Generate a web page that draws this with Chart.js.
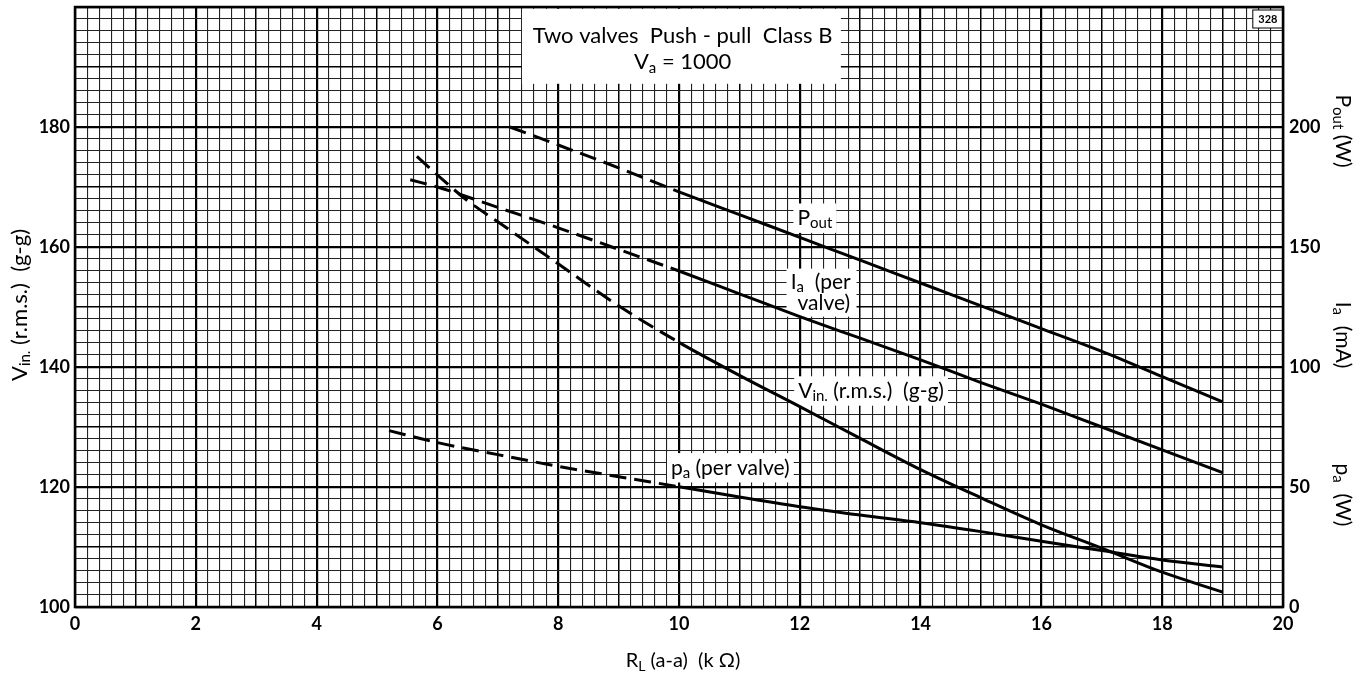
<!DOCTYPE html>
<html>
<head>
<meta charset="utf-8">
<script src="https://cdn.jsdelivr.net/npm/chart.js@4.4.1/dist/chart.umd.min.js"></script>
<style>
  html, body { margin: 0; padding: 0; background: #fff; }
  #wrap { width: 1365px; height: 679px; }
</style>
</head>
<body>
<div id="wrap"><canvas id="valveChart"></canvas></div>
<script>
// R_L (a-a) in kOhm for each curve
const poutX = [7.2, 8, 9, 10, 11, 12, 13, 14, 15, 16, 17, 18, 19];
const poutW = [200, 192.5, 183, 173, 163.5, 154, 144.5, 135, 125.5, 116, 106.5, 96, 85.5];

const iaX = [5.55, 6, 7, 8, 9, 10, 11, 12, 13, 14, 15, 16, 17, 18, 19];
const iaMA = [178, 175, 166.5, 158, 149, 140, 130.5, 121, 112, 103, 93.5, 84.5, 75, 65.5, 56];

const vinX = [5.66, 6, 6.5, 7, 8, 9, 10, 11, 12, 13, 14, 15, 16, 17, 18, 19];
const vinV = [175.1, 172, 167.7, 164.2, 157.2, 150.2, 144.1, 138.6, 133.4, 128.1, 122.9, 118.2, 113.7, 109.8, 105.8, 102.5];

const paX = [5.2, 6, 7, 8, 9, 10, 11, 12, 13, 14, 15, 16, 17, 18, 19];
const paW = [73.5, 68.5, 63.5, 58.6, 54.3, 50.1, 45.8, 41.8, 38.3, 35.1, 31.4, 27.4, 23.5, 19.6, 16.7];

// tick labels
const xLabels = [0, 2, 4, 6, 8, 10, 12, 14, 16, 18, 20];
const leftLabels = [100, 120, 140, 160, 180];
const rightLabels = [0, 50, 100, 150, 200];

const DASH_UNTIL = 10; // curves are dashed below 10 kOhm
const FONT = 'Lato, "DejaVu Sans", sans-serif';

const pts = (xs, ys) => xs.map((x, i) => ({ x: x, y: ys[i] }));

function curve(label, data, axis) {
  return {
    label: label,
    data: data,
    yAxisID: axis,
    borderColor: '#000',
    borderWidth: 3,
    pointRadius: 0,
    fill: false,
    cubicInterpolationMode: 'monotone',
    segment: {
      borderDash: c => c.p0.parsed.x < DASH_UNTIL - 0.01 ? [17, 8] : undefined
    }
  };
}

// text with subscripts: parts = [[text, isSub], ...]
function richWidth(ctx, parts, size, weight) {
  let w = 0;
  parts.forEach(p => {
    const s = p[1] ? Math.round(size * 0.7) : size;
    ctx.font = (weight || 'normal') + ' ' + s + 'px ' + FONT;
    w += ctx.measureText(p[0]).width;
  });
  return w;
}
function drawRich(ctx, parts, x, y, size, weight) {
  const w = richWidth(ctx, parts, size, weight);
  let cx = x - w / 2;
  ctx.textAlign = 'left';
  ctx.textBaseline = 'middle';
  parts.forEach(p => {
    const s = p[1] ? Math.round(size * 0.7) : size;
    ctx.font = (weight || 'normal') + ' ' + s + 'px ' + FONT;
    ctx.fillText(p[0], cx, y + (p[1] ? size * 0.25 : 0));
    cx += ctx.measureText(p[0]).width;
  });
  return w;
}
function whiteBox(ctx, x, y, w, h) {
  ctx.fillStyle = '#fff';
  ctx.fillRect(x, y, w, h);
  ctx.fillStyle = '#000';
}

const annotations = {
  id: 'annotations',
  beforeDatasetsDraw(chart) {
    const ctx = chart.ctx;
    const xs = chart.scales.x, ys = chart.scales.y;
    const px = v => xs.getPixelForValue(v);
    const py = v => ys.getPixelForValue(v);
    ctx.save();

    // heading box
    whiteBox(ctx, px(7.4), py(199.7), px(12.68) - px(7.4), py(187.2) - py(199.7));
    drawRich(ctx, [['Two valves  Push - pull  Class B', 0]], px(10.06), py(195.2), 22);
    drawRich(ctx, [['V', 0], ['a', 1], [' = 1000', 0]], px(10.06), py(190.8), 22);

    // sheet number
    ctx.fillStyle = '#fff';
    ctx.fillRect(px(19.5), py(199.5), px(20) - px(19.5), 18);
    ctx.strokeStyle = '#000';
    ctx.lineWidth = 1;
    ctx.strokeRect(px(19.5), py(199.5), px(20) - px(19.5), 18);
    ctx.fillStyle = '#000';
    drawRich(ctx, [['328', 0]], px(19.75), py(199.5) + 9, 11, 'bold');

    // curve labels
    const lab = (parts, cx, cy, size) => {
      const w = richWidth(ctx, parts, size);
      whiteBox(ctx, px(cx) - w / 2 - 4, py(cy) - size * 0.7, w + 8, size * 1.4);
      drawRich(ctx, parts, px(cx), py(cy), size);
    };
    lab([['P', 0], ['out', 1]], 12.25, 164.8, 21);
    // Ia (per / valve)
    const iaParts = [['I', 0], ['a', 1], ['  (per', 0]];
    const iw = richWidth(ctx, iaParts, 21);
    whiteBox(ctx, px(11.78), py(156.4), iw + 10, py(148.4) - py(156.4));
    drawRich(ctx, iaParts, px(11.85) + iw / 2, py(154.1), 21);
    drawRich(ctx, [['valve)', 0]], px(11.9) + 30, py(150.7), 21);
    lab([['V', 0], ['in.', 1], [' (r.m.s.)  (g-g)', 0]], 13.18, 136.0, 21);
    lab([['p', 0], ['a', 1], [' (per valve)', 0]], 10.85, 123.2, 21);

    ctx.restore();
  },
  afterDraw(chart) {
    const ctx = chart.ctx;
    const a = chart.chartArea;
    ctx.save();
    ctx.strokeStyle = '#000';
    ctx.lineWidth = 2.5;
    ctx.strokeRect(a.left, a.top, a.right - a.left, a.bottom - a.top);

    ctx.fillStyle = '#000';
    // x title
    drawRich(ctx, [['R', 0], ['L', 1], [' (a-a)  (k \u03A9)', 0]], (a.left + a.right) / 2 + 4, 661, 20);

    // left title
    ctx.save();
    ctx.translate(20, 305);
    ctx.rotate(-Math.PI / 2);
    drawRich(ctx, [['V', 0], ['in.', 1], [' (r.m.s.)  (g-g)', 0]], 0, 0, 22);
    ctx.restore();

    // right titles, reading downwards
    const rt = (parts, y) => {
      ctx.save();
      ctx.translate(1343, y);
      ctx.rotate(Math.PI / 2);
      drawRich(ctx, parts, 0, 0, 21);
      ctx.restore();
    };
    rt([['P', 0], ['out', 1], [' (W)', 0]], 131);
    rt([['I', 0], ['a', 1], ['  (mA)', 0]], 335);
    rt([['p', 0], ['a', 1], ['  (W)', 0]], 495);
    ctx.restore();
  }
};

const gridWidth = (value, step, mid, major) => {
  const n = Math.round(value / step);
  if (n % major === 0) return 2.2;
  if (n % mid === 0) return 1.5;
  return 1.1;
};

const noPad = s => { s.paddingTop = 0; s.paddingBottom = 0; s.paddingLeft = 0; s.paddingRight = 0; };

new Chart(document.getElementById('valveChart'), {
  type: 'line',
  data: {
    datasets: [
      curve('Pout', pts(poutX, poutW), 'y2'),
      curve('Ia (per valve)', pts(iaX, iaMA), 'y2'),
      curve('Vin (r.m.s.) (g-g)', pts(vinX, vinV), 'y'),
      curve('pa (per valve)', pts(paX, paW), 'y2')
    ]
  },
  options: {
    responsive: true,
    maintainAspectRatio: false,
    animation: false,
    layout: { padding: { top: 7, left: 0, right: 0, bottom: 0 } },
    plugins: {
      legend: { display: false },
      tooltip: { enabled: false }
    },
    scales: {
      x: {
        type: 'linear',
        min: 0,
        max: 20,
        afterFit: s => { s.height = 72; noPad(s); },
        border: { display: false },
        grid: {
          drawTicks: false,
          color: c => gridWidth(c.tick.value, 0.2, 5, 10) > 1.2 ? '#000' : '#222',
          lineWidth: c => gridWidth(c.tick.value, 0.2, 5, 10)
        },
        ticks: {
          stepSize: 0.2,
          autoSkip: false,
          maxRotation: 0,
          padding: 6,
          color: '#000',
          font: { family: FONT, size: 18, weight: 'bold' },
          callback: v => xLabels.includes(Math.round(v * 10) / 10) ? String(Math.round(v)) : ''
        }
      },
      y: {
        position: 'left',
        min: 100,
        max: 200,
        afterFit: s => { s.width = 75; noPad(s); },
        border: { display: false },
        grid: {
          drawTicks: false,
          color: c => gridWidth(c.tick.value, 2, 5, 10) > 1.2 ? '#000' : '#222',
          lineWidth: c => gridWidth(c.tick.value, 2, 5, 10)
        },
        ticks: {
          stepSize: 2,
          autoSkip: false,
          padding: 5,
          color: '#000',
          font: { family: FONT, size: 18, weight: 'bold' },
          callback: v => leftLabels.includes(Math.round(v)) ? String(Math.round(v)) : ''
        }
      },
      y2: {
        position: 'right',
        min: 0,
        max: 250,
        afterFit: s => { s.width = 82; noPad(s); },
        border: { display: false },
        grid: { display: false, drawTicks: false },
        ticks: {
          stepSize: 50,
          autoSkip: false,
          padding: 6,
          color: '#000',
          font: { family: FONT, size: 18, weight: 'bold' },
          callback: v => rightLabels.includes(Math.round(v)) ? String(Math.round(v)) : ''
        }
      }
    }
  },
  plugins: [annotations]
});
</script>
</body>
</html>
